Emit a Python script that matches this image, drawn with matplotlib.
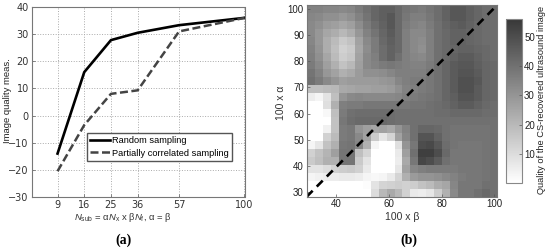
import numpy as np
import matplotlib
matplotlib.use('Agg')
import matplotlib.pyplot as plt
from matplotlib.colors import LinearSegmentedColormap

plt.rcParams['font.family'] = ['Liberation Sans', 'DejaVu Sans']
plt.rcParams['mathtext.fontset'] = 'custom'
plt.rcParams['mathtext.it'] = 'Liberation Sans:italic'
plt.rcParams['mathtext.rm'] = 'Liberation Sans'

# panel (a)
n_sub = [9, 16, 25, 36, 57, 100]
random_sampling = [-14, 16, 27.8, 30.5, 33.3, 36]
correlated_sampling = [-20.5, -3.5, 8, 9.3, 31, 36]
y_ticks_a = [-30, -20, -10, 0, 10, 20, 30, 40]

# panel (b), rows from alpha = 99 down to alpha = 30
quality = np.array([
    [35, 35, 34, 34, 33, 34, 37, 40, 43, 45, 45, 42, 39, 38, 37, 39, 41, 44, 47, 47, 45, 43, 41, 41],
    [34, 33, 31, 31, 29, 31, 35, 39, 43, 45, 47, 42, 38, 36, 36, 38, 41, 44, 47, 47, 45, 43, 41, 41],
    [33, 31, 28, 27, 25, 27, 32, 37, 41, 44, 47, 42, 37, 35, 34, 37, 40, 43, 45, 46, 44, 42, 41, 41],
    [33, 29, 25, 23, 20, 23, 29, 35, 39, 43, 46, 42, 36, 33, 33, 36, 40, 42, 44, 44, 43, 42, 41, 41],
    [34, 29, 23, 19, 15, 17, 26, 33, 37, 42, 45, 42, 36, 33, 32, 36, 40, 42, 44, 44, 43, 42, 41, 41],
    [35, 30, 23, 18, 13, 15, 25, 32, 37, 41, 44, 42, 36, 33, 31, 36, 40, 42, 43, 44, 44, 43, 42, 41],
    [36, 31, 25, 19, 14, 16, 26, 33, 36, 41, 44, 40, 36, 34, 33, 36, 40, 42, 44, 46, 46, 44, 42, 41],
    [37, 33, 27, 22, 17, 20, 27, 33, 35, 37, 38, 37, 36, 35, 35, 37, 40, 43, 46, 47, 47, 45, 43, 42],
    [39, 35, 29, 26, 22, 24, 28, 31, 31, 32, 34, 36, 36, 36, 36, 38, 40, 43, 46, 48, 48, 46, 43, 42],
    [40, 37, 33, 30, 27, 28, 28, 28, 28, 29, 30, 34, 36, 37, 37, 38, 40, 43, 46, 49, 49, 47, 43, 42],
    [18, 18, 19, 20, 24, 25, 26, 26, 27, 27, 28, 31, 35, 36, 37, 38, 40, 43, 46, 49, 49, 46, 43, 42],
    [5, 3, 8, 18, 30, 33, 34, 33, 33, 33, 33, 34, 36, 37, 38, 39, 40, 43, 45, 48, 48, 46, 43, 42],
    [0, 0, 9, 22, 36, 37, 37, 38, 38, 38, 38, 38, 38, 39, 39, 40, 41, 42, 44, 46, 46, 44, 42, 41],
    [0, 0, 2, 18, 37, 40, 41, 41, 41, 41, 41, 40, 40, 40, 40, 40, 41, 41, 42, 42, 42, 42, 41, 41],
    [0, 0, 0, 17, 38, 41, 42, 42, 42, 42, 41, 40, 40, 40, 40, 40, 40, 40, 40, 40, 40, 40, 40, 40],
    [0, 0, 4, 17, 37, 38, 30, 27, 25, 26, 24, 30, 35, 40, 43, 43, 42, 40, 39, 39, 39, 39, 39, 40],
    [0, 0, 13, 19, 37, 38, 33, 26, 15, 7, 12, 26, 34, 40, 48, 48, 44, 40, 39, 39, 39, 39, 39, 40],
    [3, 7, 17, 22, 38, 39, 34, 22, 3, 0, 0, 9, 30, 38, 50, 51, 47, 41, 39, 38, 38, 38, 39, 40],
    [13, 17, 21, 27, 39, 39, 18, 12, 0, 0, 0, 6, 27, 40, 54, 54, 50, 42, 38, 38, 38, 38, 39, 40],
    [15, 18, 22, 22, 39, 39, 15, 8, 0, 0, 0, 5, 24, 38, 52, 50, 46, 40, 38, 38, 38, 38, 39, 40],
    [8, 8, 10, 13, 14, 15, 13, 6, 0, 0, 0, 7, 26, 34, 36, 37, 37, 37, 37, 38, 38, 38, 39, 40],
    [3, 4, 5, 5, 6, 6, 5, 3, 2, 3, 6, 12, 22, 28, 30, 30, 31, 33, 35, 37, 38, 38, 39, 40],
    [0, 0, 0, 0, 0, 0, 0, 1, 8, 12, 13, 14, 13, 14, 17, 19, 23, 25, 34, 38, 38, 38, 40, 40],
    [0, 0, 0, 0, 0, 0, 0, 0, 10, 20, 24, 20, 13, 6, 5, 7, 14, 22, 33, 38, 38, 40, 42, 40],
])
ticks_b = [40, 60, 80, 100]
ticks_alpha = [30, 40, 50, 60, 70, 80, 90, 100]
ticks_cbar = [10, 20, 30, 40, 50]

W, H = 550, 249
GREY = '#555555'


def axes_px(fig, left, top, right, bottom):
    return fig.add_axes([left / W, 1 - bottom / H, (right - left) / W, (bottom - top) / H])


def main():
    fig = plt.figure(figsize=(W / 100, H / 100), dpi=100)

    # (a)
    ax = axes_px(fig, 31.5, 7, 244.5, 197)
    ax.set_xscale('function', functions=(np.sqrt, np.square))
    ax.plot(n_sub, random_sampling, color='black', lw=1.9, label='Random sampling')
    ax.plot(n_sub, correlated_sampling, color='#444444', lw=1.8, ls=(0, (3.2, 1.4)),
            label='Partially correlated sampling')
    ax.set_xlim(4.1, 100)
    ax.set_ylim(-30, 40)
    ax.set_xticks(n_sub)
    ax.set_xticklabels([str(v) for v in n_sub])
    ax.minorticks_off()
    ax.set_yticks(y_ticks_a)
    ax.grid(True, color='#aaaaaa', ls=':', lw=0.7)
    ax.tick_params(labelsize=7, length=2, width=0.5, color=GREY, labelcolor='#333333',
                   direction='in', pad=2)
    for lab in ax.get_xticklabels() + ax.get_yticklabels():
        lab.set_family('DejaVu Sans')
    for s in ax.spines.values():
        s.set_color('#777777')
        s.set_linewidth(0.8)
    fig.text(8 / W, 1 - 101 / H, 'Image quality meas.', rotation=90, fontsize=6.8,
             ha='center', va='center', color='#222222')
    ax.set_xlabel(r'$N_{\mathrm{sub}}$ = α$N_{\mathrm{x}}$ x β$N_{\mathrm{f}}$, α = β',
                  fontsize=6.8, labelpad=1, color='#333333')
    ax.xaxis.set_label_coords(0.43, -0.075)
    ax.legend(loc='lower left', bbox_to_anchor=(0.26, 0.19), fontsize=6.7, fancybox=False,
              framealpha=1, edgecolor='#555555', borderpad=0.35, labelspacing=0.4,
              handlelength=2.1, handletextpad=0.3, borderaxespad=0)

    # (b)
    ax2 = axes_px(fig, 306.7, 5, 497.3, 196.7)
    cmap = LinearSegmentedColormap.from_list('quality', ['#ffffff', '#383838'])
    im = ax2.imshow(quality, cmap=cmap, vmin=0.2, vmax=56, aspect='auto',
                    interpolation='nearest', extent=(28.9, 101.1, 28.3, 101.5))
    ax2.plot([28.9, 101.1], [28.3, 101.5], color='black', lw=1.9, ls=(0, (3.2, 2.2)))
    ax2.set_xlim(28.9, 101.1)
    ax2.set_ylim(28.3, 101.5)
    ax2.set_xticks(ticks_b)
    ax2.set_yticks(ticks_alpha)
    ax2.tick_params(labelsize=7, length=2, width=0.5, color=GREY, labelcolor='#222222',
                    direction='in', pad=2)
    for s in ax2.spines.values():
        s.set_color('#777777')
        s.set_linewidth(0.8)
    ax2.set_xlabel('100 x β', fontsize=7.5, labelpad=2, color='#333333')
    fig.text(280.5 / W, 1 - 103 / H, '100 x α', rotation=90, fontsize=7.5,
             ha='center', va='center', color='#333333')

    # colorbar
    cax = axes_px(fig, 506, 19, 522, 182.7)
    cb = fig.colorbar(im, cax=cax)
    cb.set_ticks(ticks_cbar)
    cb.ax.tick_params(labelsize=7, length=2, width=0.5, color=GREY, labelcolor='#222222',
                      direction='in', pad=1.5)
    cb.outline.set_edgecolor('#888888')
    cb.outline.set_linewidth(0.8)
    fig.text(542 / W, 1 - 100 / H, 'Quality of the CS-recovered ultrasound image', rotation=90,
             fontsize=6.7, ha='center', va='center', color='#222222')

    fig.text(123.5 / W, 1 - 240 / H, '(a)', fontsize=10, family='Liberation Serif',
             weight='bold', ha='center', va='center')
    fig.text(409 / W, 1 - 240 / H, '(b)', fontsize=10, family='Liberation Serif',
             weight='bold', ha='center', va='center')

    fig.savefig('out.png', dpi=100)


if __name__ == '__main__':
    main()
